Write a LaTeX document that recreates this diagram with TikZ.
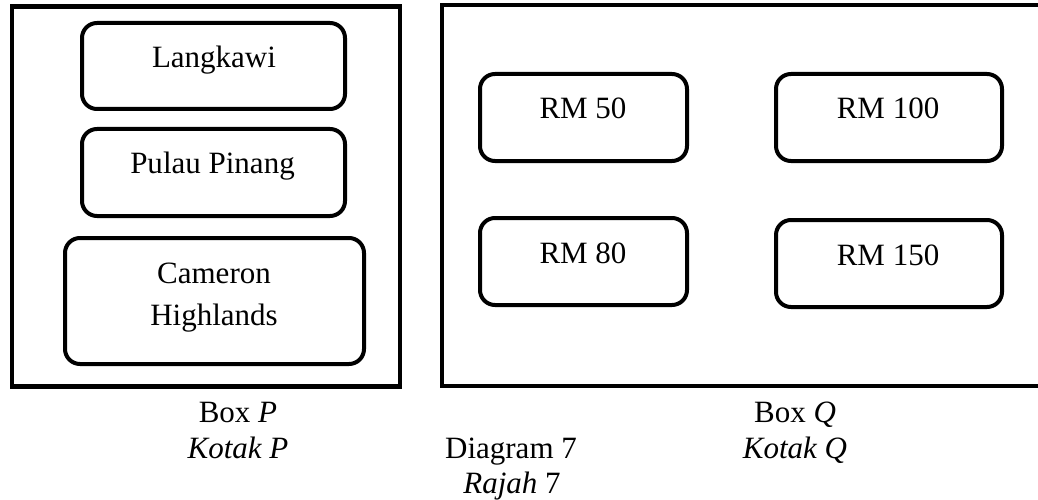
\documentclass[tikz,border=0pt]{standalone}
\usepackage{fontspec}
\setmainfont{Liberation Serif}
\begin{document}
\begin{tikzpicture}[x=1pt,y=-1pt,
  outerbox/.style={draw,line width=4.5pt},
  itembox/.style={draw,line width=4pt,rounded corners=15pt,inner sep=0pt},
  txt/.style={anchor=base,inner sep=0pt,font=\fontsize{31}{37}\selectfont}]
\useasboundingbox (0,0) rectangle (1038,500);
% outer boxes
\draw[outerbox] (12,6.5) rectangle (400,386.5);
\draw[outerbox] (1060,5) -- (442,5) -- (442,386) -- (1060,386);
% Box P items
\node[itembox,minimum width=263pt,minimum height=86pt] (lang) at (213.5,66) {};
\node[itembox,minimum width=263pt,minimum height=87pt] (pp) at (213.5,172.5) {};
\node[itembox,minimum width=299pt,minimum height=126pt] (ch) at (214.5,301) {};
\node[txt] (tlang) at (214,68) {Langkawi};
\node[txt] (tpp) at (212.5,173) {Pulau Pinang};
\node[txt] (tch1) at (214,283) {Cameron};
\node[txt] (tch2) at (214,325) {Highlands};
% Box Q items
\node[itembox,minimum width=207pt,minimum height=87pt] (r50) at (583.5,117.5) {};
\node[itembox,minimum width=207pt,minimum height=87pt] (r80) at (583.5,261.5) {};
\node[itembox,minimum width=226pt,minimum height=87pt] (r100) at (889,117.5) {};
\node[itembox,minimum width=226pt,minimum height=87pt] (r150) at (889,263.5) {};
\node[txt] (t50) at (583,118) {RM 50};
\node[txt] (t80) at (583,263) {RM 80};
\node[txt] (t100) at (888,118) {RM 100};
\node[txt] (t150) at (888,265) {RM 150};
% captions
\node[txt] (bp) at (238,422) {Box \textit{P}};
\node[txt] (kp) at (238,458) {\textit{Kotak P}};
\node[txt] (bq) at (795,422) {Box \textit{Q}};
\node[txt] (kq) at (795,458) {\textit{Kotak Q}};
\node[txt] (d7) at (511,458) {Diagram 7};
\node[txt] (r7) at (512,493) {\textit{Rajah} 7};
\end{tikzpicture}
\end{document}
